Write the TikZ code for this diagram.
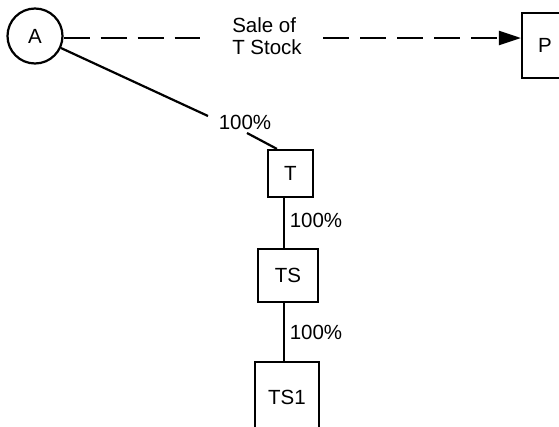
\documentclass[tikz,border=0pt]{standalone}
\usepackage{fontspec}
\setmainfont{Liberation Sans}
\usetikzlibrary{arrows.meta}
\begin{document}
\begin{tikzpicture}[x=1pt,y=-1pt,
  every node/.style={font=\fontsize{20.5}{22}\selectfont},
  ent/.style={draw,line width=2.2pt,inner sep=0pt},
  link/.style={line width=2.2pt},
  sale/.style={line width=2.2pt,dash pattern=on 26pt off 11pt},
  lbl/.style={inner sep=0pt}]
\useasboundingbox (0,0) rectangle (559,426);
\node[ent,circle,minimum size=55pt] (A) at (35,36) {A};
\node[ent,minimum width=46pt,minimum height=65pt] (P) at (545,45.5) {P};
\node[ent,minimum width=45pt,minimum height=47pt] (T) at (290.5,173.5) {T};
\node[ent,minimum width=60pt,minimum height=53pt] (TS) at (288,275.5) {TS};
\node[ent,minimum width=64pt,minimum height=70pt] (TS1) at (287,397) {TS1};
\node[lbl,align=left] (sale) at (267,36) {Sale of\\T Stock};
\node[lbl] (p1) at (245,122) {100\%};
\node[lbl] (p2) at (316,220) {100\%};
\node[lbl] (p3) at (316,332) {100\%};
\coordinate (d1) at (200,38);
\coordinate (d2) at (323,38);
\coordinate (g1) at (208,116);
\coordinate (g2) at (247,133);
\draw[sale] (A.east |- d1) -- (d1);
\draw[sale,-{Triangle[length=22pt,width=14pt]}] (d2) -- (P.west |- d2);
\draw[link] (A) -- (g1);
\draw[link] (g2) -- ([xshift=10pt]T.north west);
\draw[link] (T.south -| 284,0) -- (TS.north -| 284,0);
\draw[link] (TS.south -| 284,0) -- (TS1.north -| 284,0);
\end{tikzpicture}
\end{document}
